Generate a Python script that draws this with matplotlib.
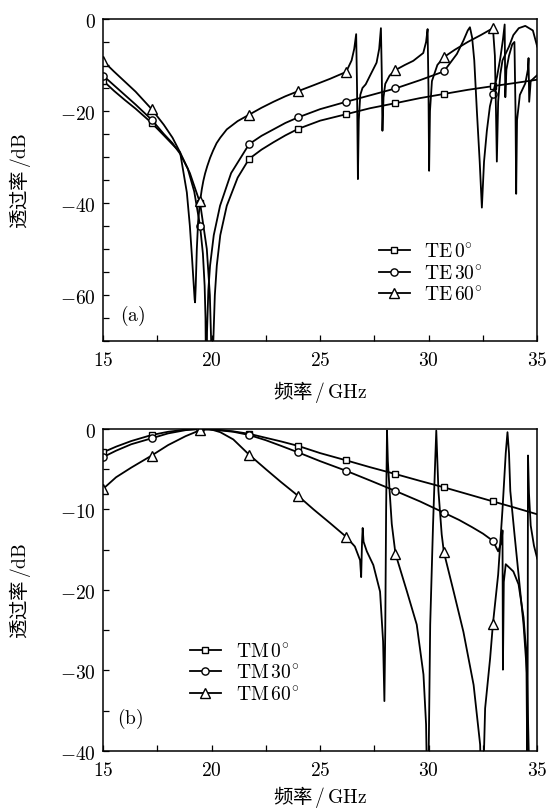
import numpy as np
import matplotlib
matplotlib.use("Agg")
import matplotlib.pyplot as plt
from matplotlib.ticker import MultipleLocator, FuncFormatter
from matplotlib.lines import Line2D

plt.rcParams['mathtext.fontset'] = 'cm'
plt.rcParams['font.family'] = ['Noto Sans CJK SC', 'DejaVu Sans']

# frequencies (GHz) where the symbols sit
mk_x = [15, 17.24, 19.47, 21.73, 23.98, 26.2, 28.47, 30.7, 32.96]

# (a) TE transmission, (GHz, dB)
te0 = np.array([
    (15, -13.4), (15.5, -15.6), (16, -17.6), (16.5, -19.5), (17.24, -22.6), (17.8, -25.3),
    (18.55, -29.0), (19.0, -33.5), (19.47, -40.0), (19.78, -50.0), (19.92, -60.0), (19.98, -70.0),
    (20.03, -85.0), (20.08, -70.0), (20.15, -60.0), (20.24, -53.6), (20.4, -47.0), (20.7, -40.6),
    (21.2, -34.5), (21.73, -30.4), (22.3, -28.4), (22.85, -26.8), (23.4, -25.3), (23.98, -23.9),
    (25.0, -22.1), (26.2, -20.7), (27.3, -19.4), (28.47, -18.3), (29.6, -17.2), (30.7, -16.3),
    (31.8, -15.4), (32.96, -14.6), (34.0, -13.9), (35, -13.2)])

te30 = np.array([
    (15, -12.3), (15.5, -14.4), (16, -16.5), (16.5, -18.6), (17.24, -21.9), (17.8, -25.0),
    (18.2, -27.0), (18.55, -29.3), (18.9, -32.5), (19.2, -37.5), (19.47, -45), (19.6, -51),
    (19.68, -58), (19.72, -65), (19.755, -85), (19.79, -68), (19.85, -59), (19.93, -53.6),
    (20.1, -47), (20.39, -40.6), (20.9, -33.5), (21.73, -27.2), (22.3, -25.4), (22.85, -24.0),
    (23.4, -22.6), (23.98, -21.4), (25.0, -19.6), (26.2, -18.0), (27.3, -16.6), (28.47, -15.1),
    (29.6, -13.3), (30.7, -11.4), (31.3, -7.6), (31.6, -4.7), (31.8, -2.5), (31.9, -1.8),
    (32.0, -4), (32.1, -9), (32.22, -20), (32.35, -31), (32.45, -41), (32.55, -31),
    (32.68, -24.3), (32.82, -19), (32.96, -16.2), (33.15, -12.5), (33.3, -8.5), (33.42, -4.5),
    (33.5, -1.2), (33.53, -17), (33.58, -11), (33.7, -8), (33.85, -5.5), (33.95, -5),
    (34.0, -20), (34.03, -38), (34.07, -22), (34.2, -16.5), (34.45, -14), (34.57, -11),
    (34.6, -8.5), (34.63, -18), (34.7, -13.5), (35, -12.2)])

te60 = np.array([
    (15, -9.1), (15.5, -11.4), (16, -13.6), (16.5, -15.8), (17.24, -19.6), (17.8, -23.0),
    (18.2, -25.8), (18.55, -29.0), (18.86, -37.7), (19.0, -45.0), (19.1, -52), (19.18, -58),
    (19.22, -61), (19.24, -61.6), (19.27, -58), (19.32, -50), (19.38, -44), (19.47, -39.6),
    (19.55, -37.0), (19.62, -35.2), (19.7, -33.6), (19.8, -32.0), (19.93, -30.2), (20.07, -28.6),
    (20.23, -27.0), (20.4, -25.8), (20.7, -24.0), (21.2, -22.2),
    (21.73, -20.8), (22.3, -19.3), (22.85, -18.0), (23.4, -16.8), (23.98, -15.7), (24.7, -14.4),
    (25.46, -13.0), (26.2, -11.5), (26.45, -9.0), (26.57, -6.5), (26.66, -3.3), (26.7, -15),
    (26.74, -34.8), (26.78, -22), (26.85, -16.5), (26.95, -15.0), (27.1, -14.2), (27.3, -12.3),
    (27.6, -9.5), (27.72, -6.5), (27.8, -2.0), (27.84, -12), (27.87, -24.3), (27.92, -17),
    (28.0, -14.1), (28.2, -12.3), (28.47, -11.1), (28.9, -10.0), (29.29, -9.1), (29.75, -7.4),
    (29.88, -5.0), (29.95, -2.2), (29.99, -15), (30.02, -33), (30.06, -20), (30.15, -13.5),
    (30.4, -10), (30.7, -8.3), (31.2, -6.7), (31.8, -5.0), (32.4, -3.5), (32.96, -2.0),
    (33.05, -8), (33.1, -20), (33.14, -31), (33.2, -18), (33.3, -12), (33.4, -9),
    (33.55, -7.5), (33.7, -6), (33.9, -3.5), (34.15, -2.0), (34.45, -1.5), (34.8, -2.5),
    (35, -6)])

# (b) TM transmission, (GHz, dB)
tm0 = np.array([
    (15, -2.9), (15.6, -2.2), (16.3, -1.5), (17.24, -0.75), (18.0, -0.35), (18.8, -0.08),
    (19.47, 0.0), (20.3, -0.1), (21.0, -0.3), (21.73, -0.6), (22.5, -1.1), (23.2, -1.55),
    (23.98, -2.1), (25.0, -3.0), (26.2, -3.9), (27.3, -4.75), (28.47, -5.6), (29.6, -6.45),
    (30.7, -7.25), (31.8, -8.1), (32.96, -9.0), (34.0, -9.8), (35, -10.6)])

tm30 = np.array([
    (15, -3.5), (15.6, -2.7), (16.3, -1.9), (17.24, -1.16), (18.0, -0.55), (18.8, -0.15),
    (19.47, 0.0), (20.3, -0.15), (21.0, -0.35), (21.73, -0.75), (22.5, -1.4), (23.2, -2.1),
    (23.98, -2.9), (25.0, -4.0), (26.2, -5.2), (27.3, -6.4), (28.47, -7.7), (29.6, -9.0),
    (30.7, -10.4), (31.4, -11.3), (32.0, -12.2), (32.5, -13.0), (32.96, -13.9), (33.2, -15.2),
    (33.36, -14.0), (33.4, -12.6), (33.42, -29.9), (33.46, -19), (33.55, -16.8), (33.9, -17.7),
    (34.14, -19.3), (34.37, -23.4), (34.5, -28), (34.55, -45), (34.575, -3.3), (34.62, -8),
    (34.7, -12), (34.85, -14.5), (35, -16.1)])

tm60 = np.array([
    (15, -7.45), (15.6, -6.0), (16.3, -4.8), (17.24, -3.3), (18.0, -2.0), (18.8, -0.9),
    (19.47, -0.15), (19.9, 0.0), (20.4, -0.4), (21.0, -1.3), (21.73, -3.2), (22.5, -5.0),
    (23.2, -6.6), (23.98, -8.3), (24.7, -10.0), (25.46, -11.7), (26.2, -13.4), (26.6, -14.6),
    (26.84, -16.3), (26.89, -18.4), (26.93, -14), (26.96, -12.3), (27.0, -14), (27.15, -15.2),
    (27.45, -16.9), (27.76, -20.2), (27.9, -26.4), (27.96, -33.8), (28.0, -25), (28.04, -10),
    (28.08, -0.2), (28.12, -4), (28.2, -7.7), (28.3, -11.8), (28.47, -15.5), (29.0, -20.2),
    (29.45, -24.3), (29.76, -30.5), (29.88, -36.7), (29.93, -45), (29.98, -45), (30.07, -24.3),
    (30.2, -12), (30.3, -4), (30.35, -0.2), (30.4, -4), (30.45, -7.7), (30.6, -13.1),
    (30.7, -15.3), (31.15, -20.2), (31.6, -25.2), (32.07, -31.8), (32.37, -39.2), (32.42, -45),
    (32.5, -45), (32.6, -34.7), (32.83, -28.5), (32.96, -24.2), (33.2, -18.1), (33.4, -10),
    (33.55, -3), (33.63, -0.4), (33.7, -3), (33.76, -7.7), (33.95, -13), (34.14, -18.1),
    (34.37, -24.3), (34.53, -30.5), (34.65, -45), (35, -45)])

te_labels = [r'$\mathrm{TE}\,0^{\circ}$', r'$\mathrm{TE}\,30^{\circ}$', r'$\mathrm{TE}\,60^{\circ}$']
tm_labels = [r'$\mathrm{TM}\,0^{\circ}$', r'$\mathrm{TM}\,30^{\circ}$', r'$\mathrm{TM}\,60^{\circ}$']

styles = [('s', 4.4), ('o', 5.2), ('^', 6.8)]
fs = 14
lw = 1.3

def draw(ax, d, marker, ms):
    x, y = d[:, 0], d[:, 1]
    mask = np.any(np.isclose(x[:, None], np.array(mk_x)[None, :]), axis=1)
    ax.plot(x, y, color='black', lw=lw, marker=marker, ms=ms, mfc='white',
            mec='black', mew=1.0, markevery=mask)

def style_axes(ax, ylim, xlabel_y):
    ax.set_xlim(15, 35)
    ax.set_ylim(*ylim)
    ax.xaxis.set_major_locator(MultipleLocator(5))
    ax.xaxis.set_minor_locator(MultipleLocator(2.5))
    ax.yaxis.set_minor_locator(MultipleLocator(5))
    fmt = FuncFormatter(lambda v, p: r'$\mathrm{%d}$' % round(v))
    ax.xaxis.set_major_formatter(fmt)
    ax.yaxis.set_major_formatter(fmt)
    ax.tick_params(which='both', direction='in', top=False, right=False,
                   length=4, width=0.9, labelsize=fs)
    ax.tick_params(axis='x', pad=6)
    ax.tick_params(axis='y', pad=5)
    for s in ax.spines.values():
        s.set_linewidth(1.1)
    ax.set_xlabel('频率' + r'$\,/\,\mathrm{GHz}$', fontsize=fs, family=['Noto Sans CJK SC'])
    ax.set_ylabel('透过率' + r'$\,/\mathrm{dB}$', fontsize=fs, family=['Noto Sans CJK SC'])
    ax.xaxis.set_label_coords(0.5, xlabel_y)
    ax.yaxis.set_label_coords(-0.162, 0.5)

fig = plt.figure(figsize=(5.51, 8.12), dpi=100)
ax1 = fig.add_axes([0.187, 0.5788, 0.788, 0.3966])
ax2 = fig.add_axes([0.187, 0.0739, 0.788, 0.3966])

for d, (m, ms) in zip([te0, te30, te60], styles):
    draw(ax1, d, m, ms)
for d, (m, ms) in zip([tm0, tm30, tm60], styles):
    draw(ax2, d, m, ms)

style_axes(ax1, (-70, 0), -0.116)
ax1.yaxis.set_major_locator(MultipleLocator(20))
style_axes(ax2, (-40, 0), -0.1)
ax2.yaxis.set_major_locator(MultipleLocator(10))

def handles():
    return [Line2D([], [], color='black', lw=lw, marker=m, ms=ms, mfc='white',
                   mec='black', mew=1.0) for m, ms in styles]

ax1.legend(handles(), te_labels, loc='upper left', bbox_to_anchor=(0.635, 0.31),
           frameon=False, fontsize=fs, handlelength=1.6, handletextpad=0.75,
           labelspacing=0.02, borderpad=0, borderaxespad=0)
ax2.legend(handles(), tm_labels, loc='upper left', bbox_to_anchor=(0.2, 0.342),
           frameon=False, fontsize=fs, handlelength=1.6, handletextpad=0.75,
           labelspacing=0.02, borderpad=0, borderaxespad=0)

ax1.text(0.039, 0.081, r'$\mathrm{(a)}$', transform=ax1.transAxes, fontsize=fs,
         ha='left', va='center')
ax2.text(0.032, 0.104, r'$\mathrm{(b)}$', transform=ax2.transAxes, fontsize=fs,
         ha='left', va='center')

fig.savefig('out.png', dpi=100)
